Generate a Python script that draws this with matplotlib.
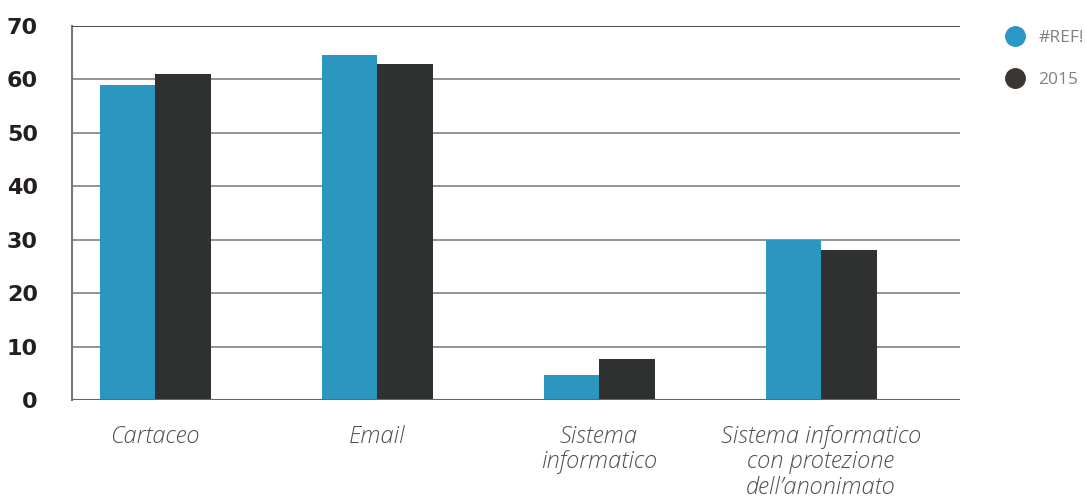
import matplotlib
matplotlib.use("Agg")
import matplotlib.pyplot as plt
from matplotlib.lines import Line2D
import numpy as np

categories = ["Cartaceo", "Email", "Sistema\ninformatico",
              "Sistema informatico\ncon protezione\ndell\u2019anonimato"]
series_names = ["#REF!", "2015"]
ref_values = [59, 64.6, 4.7, 30]
y2015_values = [61, 62.8, 7.7, 28.1]
yticks = [0, 10, 20, 30, 40, 50, 60, 70]

colors = ["#2b97c0", "#2f3030"]

fig = plt.figure(figsize=(10.86, 5.0), dpi=100)
ax = fig.add_axes([0.0663, 0.2, 0.8177, 0.748])

x = np.arange(len(categories))
w = 0.25
ax.bar(x - w / 2, ref_values, width=w, color=colors[0], zorder=3)
ax.bar(x + w / 2, y2015_values, width=w, color=colors[1], zorder=3)

ax.set_xlim(-0.374, 3.626)
ax.set_ylim(0, 70)
ax.set_yticks(yticks)
ax.set_yticklabels([str(v) for v in yticks], fontsize=16, fontweight="heavy",
                   color="#231f20", family="DejaVu Sans")
ax.yaxis.grid(True, color="#8a8a8a", linewidth=1.3, zorder=0)
ax.set_axisbelow(True)
for s in ["right", "bottom", "top"]:
    ax.spines[s].set_visible(False)
ax.spines["left"].set_color("#777777")
ax.spines["left"].set_linewidth(1.5)
ax.axhline(0, color="#666666", linewidth=1.5, zorder=4)
ax.axhline(70, color="#444444", linewidth=1.3, zorder=4)
ax.tick_params(axis="y", length=0, pad=24.5)
ax.tick_params(axis="x", length=0, pad=18)
ax.set_xticks(x)
ax.set_xticklabels(categories, fontsize=17, fontstyle="italic", fontweight="light",
                   color="#4f4f4f", family="Open Sans", linespacing=1.08)

handles = [Line2D([], [], marker="o", linestyle="none", markersize=14,
                  markerfacecolor=c, markeredgecolor=c) for c in ["#2b97c8", "#3a3634"]]
leg = fig.legend(handles, series_names, loc="upper left", bbox_to_anchor=(0.904, 0.971),
                 frameon=False, labelspacing=1.45, handletextpad=0.35,
                 prop={"family": "Open Sans", "size": 12.5})
for t in leg.get_texts():
    t.set_color("#808080")

fig.savefig("out.png", dpi=100)
